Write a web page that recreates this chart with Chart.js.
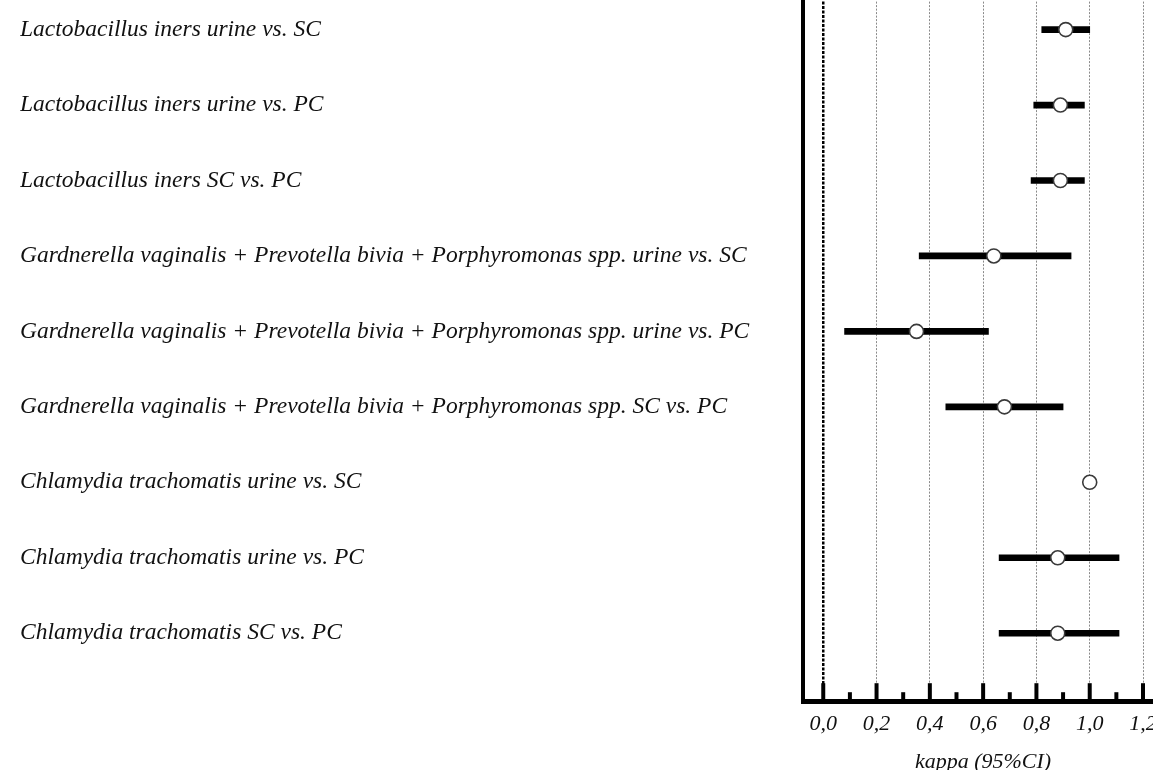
<!DOCTYPE html>
<html>
<head>
<meta charset="utf-8">
<script src="https://cdn.jsdelivr.net/npm/chart.js@4/dist/chart.umd.min.js"></script>
<style>
  html, body { margin: 0; padding: 0; background: #fff; overflow: hidden; }
  #wrap { position: relative; width: 1200px; height: 782px; margin-top: -7px; }
</style>
</head>
<body>
<div id="wrap"><canvas id="forest"></canvas></div>
<script>
// Comparisons (one row each, top to bottom)
const comparisons = [
  'Lactobacillus iners urine vs. SC',
  'Lactobacillus iners urine vs. PC',
  'Lactobacillus iners SC vs. PC',
  'Gardnerella vaginalis + Prevotella bivia + Porphyromonas spp. urine vs. SC',
  'Gardnerella vaginalis + Prevotella bivia + Porphyromonas spp. urine vs. PC',
  'Gardnerella vaginalis + Prevotella bivia + Porphyromonas spp. SC vs. PC',
  'Chlamydia trachomatis urine vs. SC',
  'Chlamydia trachomatis urine vs. PC',
  'Chlamydia trachomatis SC vs. PC'
];
// Cohen's kappa and its 95% confidence interval
const kappa   = [0.91, 0.89, 0.89, 0.64, 0.35, 0.68, 1.00, 0.88, 0.88];
const ciLower = [0.82, 0.79, 0.78, 0.36, 0.08, 0.46, null, 0.66, 0.66];
const ciUpper = [1.00, 0.98, 0.98, 0.93, 0.62, 0.90, null, 1.11, 1.11];
// Axis ticks
const xTickValues  = [0, 0.2, 0.4, 0.6, 0.8, 1.0, 1.2];
const xMinorValues = [0.1, 0.3, 0.5, 0.7, 0.9, 1.1];

const rows = comparisons.map((_, i) => i + 1);
const serif = '"Liberation Serif", "Times New Roman", serif';

// Inward tick marks on the kappa axis
const innerTicks = {
  id: 'innerTicks',
  afterDraw(chart) {
    const x = chart.scales.x;
    const ctx = chart.ctx;
    const base = chart.chartArea.bottom;
    ctx.save();
    ctx.strokeStyle = '#000';
    ctx.lineWidth = 4;
    const mark = (v, len) => {
      const px = x.getPixelForValue(v);
      ctx.beginPath();
      ctx.moveTo(px, base);
      ctx.lineTo(px, base - len);
      ctx.stroke();
    };
    xTickValues.forEach(v => mark(v, 18));
    xMinorValues.forEach(v => mark(v, 9));
    ctx.restore();
  }
};

new Chart(document.getElementById('forest'), {
  type: 'bar',
  data: {
    datasets: [
      {
        type: 'scatter',
        label: 'kappa',
        data: rows.map((r, i) => ({ x: kappa[i], y: r })),
        pointRadius: 7,
        pointBackgroundColor: '#fff',
        pointBorderColor: '#3a3a3a',
        pointBorderWidth: 1.6,
        order: 0
      },
      {
        type: 'bar',
        label: '95% CI',
        data: rows.map((r, i) => ({ x: ciLower[i] === null ? null : [ciLower[i], ciUpper[i]], y: r })),
        backgroundColor: '#000',
        borderWidth: 0,
        barThickness: 6,
        order: 1
      }
    ]
  },
  options: {
    indexAxis: 'y',
    responsive: true,
    maintainAspectRatio: false,
    animation: false,
    layout: { padding: { left: 20, right: 37, top: 0, bottom: 0 } },
    plugins: { legend: { display: false }, tooltip: { enabled: false } },
    scales: {
      x: {
        type: 'linear',
        min: -0.076,
        max: 1.275,
        afterBuildTicks: s => { s.ticks = xTickValues.map(v => ({ value: v })); },
        ticks: {
          color: '#111',
          font: { family: serif, size: 22, style: 'italic' },
          padding: 10,
          callback: v => v.toFixed(1).replace('.', ',')
        },
        grid: {
          drawTicks: false,
          color: ctx => ctx.tick && ctx.tick.value === 0 ? '#000' : '#8a8a8a',
          lineWidth: ctx => ctx.tick && ctx.tick.value === 0 ? 2.5 : 1
        },
        border: {
          display: true,
          color: '#000',
          width: 5,
          dash: ctx => ctx.tick && ctx.tick.value === 0 ? [3, 1.5] : [2, 1.5]
        },
        title: {
          display: true,
          text: 'kappa (95%CI)',
          color: '#111',
          font: { family: serif, size: 22, style: 'italic' },
          padding: { top: 1, bottom: 0 }
        }
      },
      y: {
        type: 'linear',
        reverse: true,
        offset: false,
        min: 0.629,
        max: 9.901,
        afterBuildTicks: s => { s.ticks = rows.map(v => ({ value: v })); },
        afterFit: s => { s.width = 783; s.paddingTop = 0; s.paddingBottom = 0; },
        ticks: {
          crossAlign: 'far',
          color: '#111',
          font: { family: serif, size: 23.5, style: 'italic' },
          callback: v => comparisons[v - 1] || ''
        },
        grid: { display: false },
        border: { display: true, color: '#000', width: 4 }
      }
    }
  },
  plugins: [innerTicks]
});
</script>
</body>
</html>
